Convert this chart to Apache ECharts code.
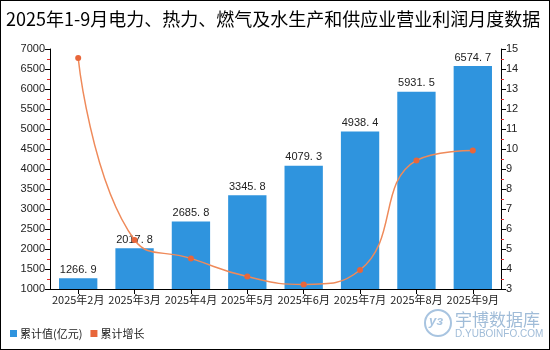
<!DOCTYPE html>
<html><head><meta charset="utf-8">
<script src="https://cdn.jsdelivr.net/npm/echarts@6/dist/echarts.min.js"></script>
<style>html,body{margin:0;padding:0;}#c{width:548px;height:348px;border:1px solid #000;}</style>
</head><body><div id="c"></div>
<script>
var titleText = '2025年1-9月电力、热力、燃气及水生产和供应业营业利润月度数据';
var categories = ['2025年2月','2025年3月','2025年4月','2025年5月','2025年6月','2025年7月','2025年8月','2025年9月'];
var cumValue = [1266.9, 2017.8, 2685.8, 3345.8, 4079.3, 4938.4, 5931.5, 6574.7];
var cumGrowth = [14.55, 5.45, 4.53, 3.62, 3.23, 3.95, 9.43, 9.93];
var seriesNames = ['累计值(亿元)', '累计增长'];

var chart = echarts.init(document.getElementById('c'));
function axisCommon() {
  return {
    axisLine: {show: true, lineStyle: {color: '#000'}},
    axisTick: {show: true, lineStyle: {color: '#000'}},
    minorTick: {show: true, splitNumber: 2, length: 3, lineStyle: {color: '#e03030'}},
    splitLine: {show: false},
    axisLabel: {color: '#222', fontSize: 11, margin: 5, fontFamily: 'Arial, Liberation Sans',
      formatter: function(v){ return String(v); }}
  };
}
chart.setOption({
  animation: false,
  title: {text: titleText, left: 0, top: 4, textStyle: {fontSize: 18, fontWeight: 'normal', color: '#000', fontFamily: 'Noto Sans CJK SC'}},
  grid: {left: 49, right: 48, top: 48, bottom: 60},
  legend: {left: 4, bottom: 5, itemWidth: 7, itemHeight: 7, itemGap: 8, icon: 'rect',
    textStyle: {fontSize: 11, color: '#222', fontFamily: 'Noto Sans CJK SC', padding: [0, 0, 0, -2]},
    data: seriesNames},
  xAxis: {type: 'category', data: categories,
    axisLine: {lineStyle: {color: '#000'}},
    axisTick: {show: true, alignWithLabel: true, lineStyle: {color: '#000'}},
    axisLabel: {color: '#222', fontSize: 11, interval: 0, margin: 5, fontFamily: 'Noto Sans CJK SC'}},
  yAxis: [
    Object.assign({type: 'value', min: 1000, max: 7000, interval: 500, position: 'left'}, axisCommon()),
    Object.assign({type: 'value', min: 3, max: 15, interval: 1, position: 'right'}, axisCommon())
  ],
  series: [
    {name: seriesNames[0], type: 'bar', data: cumValue, barWidth: '68%', yAxisIndex: 0,
      itemStyle: {color: '#2f94de'},
      label: {show: true, position: 'top', color: '#222', fontSize: 11, distance: 3,
        formatter: function(p){ return p.value.toFixed(1).replace('.', '. '); }}},
    {name: seriesNames[1], type: 'line', data: cumGrowth, yAxisIndex: 1, smooth: true,
      symbol: 'circle', symbolSize: 6,
      itemStyle: {color: '#e8663a'}, lineStyle: {color: '#ef8a5a', width: 1.5}}
  ],
  graphic: [
    {type: 'circle', shape: {cx: 437, cy: 322, r: 13}, style: {fill: 'none', stroke: '#a8c4e0', lineWidth: 2}},
    {type: 'text', left: 428, top: 314, style: {text: 'уз', fill: '#a8c4e0', font: 'italic bold 13px Arial'}},
    {type: 'text', left: 454, top: 310, style: {text: '宇博数据库', fill: '#a0bcd8', font: '17px "Noto Sans CJK SC"'}},
    {type: 'text', left: 454, top: 328, style: {text: 'D.YUBOINFO.COM', fill: '#a0bcd8', font: '10px Arial'}}
  ]
});
</script></body></html>
